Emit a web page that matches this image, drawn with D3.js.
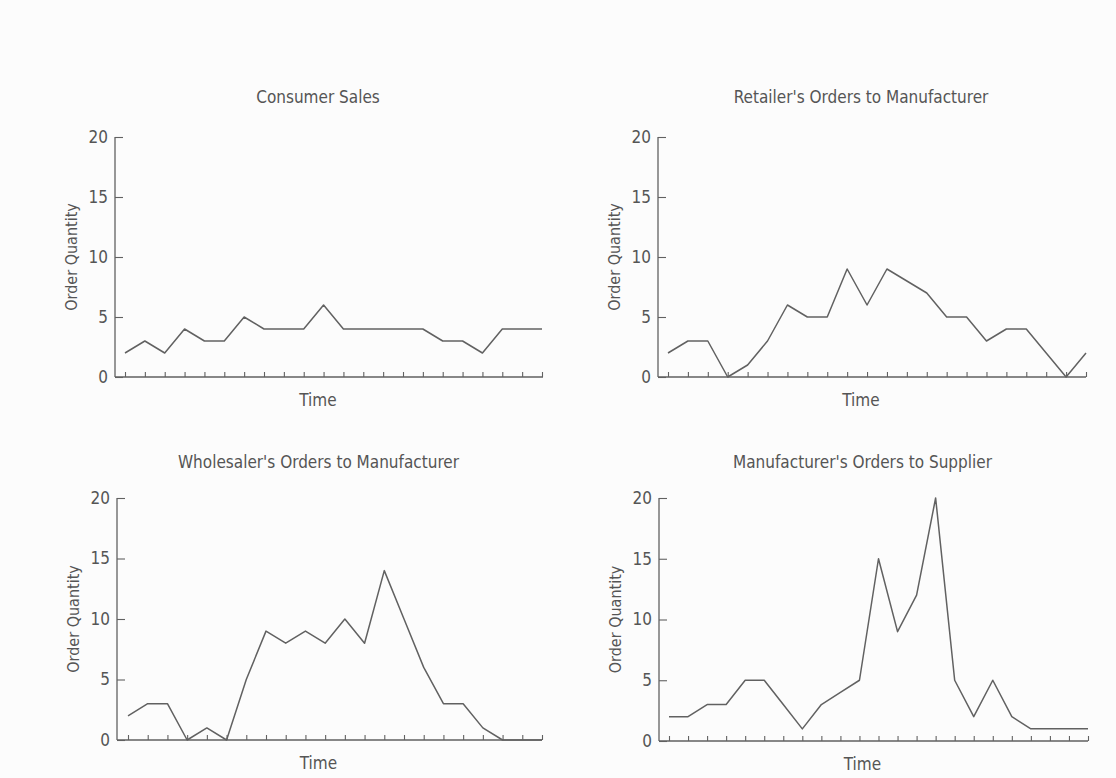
<!DOCTYPE html>
<html>
<head>
<meta charset="utf-8">
<script src="https://cdn.jsdelivr.net/npm/d3@7"></script>
<style>
  html, body { margin: 0; padding: 0; background: #fcfcfc; }
  svg { display: block; }
  text { font-family: "Liberation Sans Narrow", "DejaVu Sans Condensed", "Liberation Sans", sans-serif; fill: #555; }
</style>
</head>
<body>
<svg id="chart" width="1116" height="778"></svg>
<script>
// ---- data ----
const titles = [
  "Consumer Sales",
  "Retailer's Orders to Manufacturer",
  "Wholesaler's Orders to Manufacturer",
  "Manufacturer's Orders to Supplier"
];
const consumerSales   = [2,3,2,4,3,3,5,4,4,4,6,4,4,4,4,4,3,3,2,4,4,4];
const retailerOrders  = [2,3,3,0,1,3,6,5,5,9,6,9,8,7,5,5,3,4,4,2,0,2];
const wholesalerOrders= [2,3,3,0,1,0,5,9,8,9,8,10,8,14,10,6,3,3,1,0,0,0];
const manufacturerOrders = [2,2,3,3,5,5,3,1,3,4,5,15,9,12,20,5,2,5,2,1,1,1,1];
const yTicks = [0,5,10,15,20];
const yLabel = "Order Quantity";
const xLabel = "Time";

const seriesList = [consumerSales, retailerOrders, wholesalerOrders, manufacturerOrders];

// ---- layout ----
const panels = [
  {axisL:115, axisR:543, first:125, last:542, top:137, bottom:377, titleY:103, timeY:406},
  {axisL:658, axisR:1086, first:668, last:1086, top:137, bottom:377, titleY:103, timeY:406},
  {axisL:117, axisR:542, first:128, last:542, top:498, bottom:740, titleY:468, timeY:769},
  {axisL:659, axisR:1088, first:669, last:1088, top:498, bottom:741, titleY:468, timeY:770}
];

const svg = d3.select("#chart");
const ink = "#616161";

panels.forEach((p, i) => {
  const data = seriesList[i];
  const g = svg.append("g");
  const x = d3.scaleLinear().domain([0, data.length - 1]).range([p.first, p.last]);
  const y = d3.scaleLinear().domain([0, 20]).range([p.bottom, p.top]);

  // y axis
  const yAxis = d3.axisLeft(y).tickValues(yTicks).tickSize(-8).tickPadding(7).tickSizeOuter(0);
  const ya = g.append("g").attr("transform", `translate(${p.axisL},0)`).call(yAxis);
  ya.select(".domain").attr("stroke", ink).attr("stroke-width", 1.3)
    .attr("d", `M0,${p.bottom}V${p.top}`);
  ya.selectAll(".tick line").attr("stroke", ink).attr("stroke-width", 1.1);
  ya.selectAll(".tick text").style("font-size", "17px").style("fill", "#555").attr("font-family", null);

  // x axis
  const xAxis = d3.axisBottom(x).tickValues(d3.range(data.length)).tickSize(-5).tickFormat("").tickSizeOuter(0);
  const xa = g.append("g").attr("transform", `translate(0,${p.bottom})`).call(xAxis);
  xa.select(".domain").attr("stroke", ink).attr("stroke-width", 1.3)
    .attr("d", `M${p.axisL},0H${p.axisR}`);
  xa.selectAll(".tick line").attr("stroke", ink).attr("stroke-width", 1.1);

  // line
  const line = d3.line().x((d, j) => x(j)).y(d => y(d));
  g.append("path").datum(data)
    .attr("fill", "none").attr("stroke", ink).attr("stroke-width", 1.5)
    .attr("stroke-linejoin", "round").attr("d", line);

  // title
  const cx = (p.axisL + p.axisR) / 2 - 11;
  g.append("text").attr("x", cx).attr("y", p.titleY)
    .attr("text-anchor", "middle").style("font-size", "17px").text(titles[i]);

  // x label
  g.append("text").attr("x", cx).attr("y", p.timeY)
    .attr("text-anchor", "middle").style("font-size", "17px").text(xLabel);

  // y label
  const ly = (p.top + p.bottom) / 2;
  g.append("text").attr("transform", `translate(${p.axisL - 38},${ly}) rotate(-90)`)
    .attr("text-anchor", "middle").style("font-size", "16px").text(yLabel);
});
</script>
</body>
</html>
